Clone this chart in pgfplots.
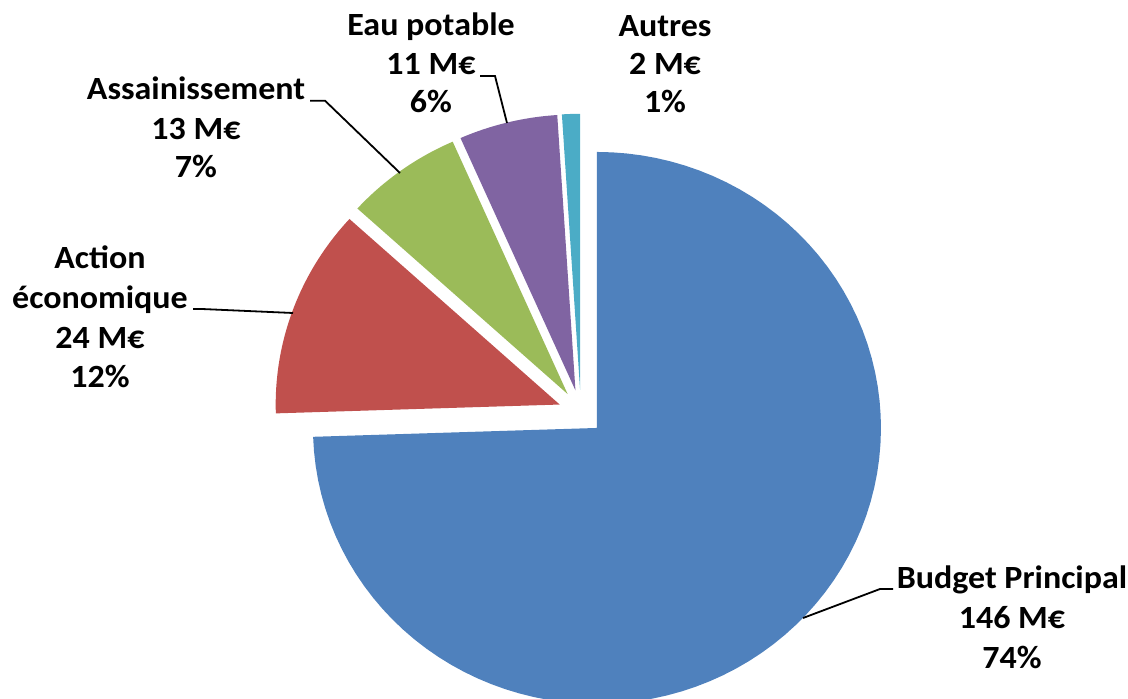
\documentclass[border=0pt]{standalone}
\usepackage{pgfplots}
\pgfplotsset{compat=1.18}
\usepackage{fontspec}
\setmainfont{Carlito}[FakeStretch=1.05]
\definecolor{cBlue}{HTML}{4F81BD}
\definecolor{cRed}{HTML}{C0504D}
\definecolor{cGreen}{HTML}{9BBB59}
\definecolor{cPurple}{HTML}{8064A2}
\definecolor{cCyan}{HTML}{4BACC6}
% data (M EUR)
\def\vBudget{146}
\def\vAction{24}
\def\vAssain{13}
\def\vEau{11}
\def\vAutres{2}
\pgfmathsetmacro{\T}{\vBudget+\vAction+\vAssain+\vEau+\vAutres}
% geometry (pixel units)
\def\cx{580.8}
\def\cy{412.3}
\def\rx{284}
\def\ry{276}
\def\d{22.5}
\newcommand{\slice}[3]{%
  \pgfmathsetmacro{\s}{90-#1/\T*360}%
  \pgfmathsetmacro{\e}{90-(#1+#2)/\T*360}%
  \pgfmathsetmacro{\b}{(\s+\e)/2}%
  \pgfmathsetmacro{\px}{\cx+\d*cos(\b)}%
  \pgfmathsetmacro{\py}{\cy-\d*sin(\b)}%
  \edef\cmd{\noexpand\addplot[fill=#3, draw=none, domain=\e:\s, samples=90]
    ({\px+\rx*cos(x)},{\py-\ry*sin(x)}) -- (axis cs:\px,\py) -- cycle;}%
  \cmd
}
\newcommand{\lab}[3]{\node[anchor=base, font=\fontsize{32.5}{38}\selectfont\bfseries, inner sep=0pt] at (axis cs:#1,#2) {#3};}
\begin{document}
\begin{tikzpicture}
\begin{axis}[
  scale only axis, width=1128bp, height=699bp,
  xmin=0, xmax=1128, ymin=0, ymax=699, y dir=reverse,
  hide axis, clip=true,
]
\slice{0}{\vBudget}{cBlue}
\pgfmathsetmacro{\cA}{\vBudget}
\slice{\cA}{\vAction}{cRed}
\pgfmathsetmacro{\cB}{\vBudget+\vAction}
\slice{\cB}{\vAssain}{cGreen}
\pgfmathsetmacro{\cC}{\vBudget+\vAction+\vAssain}
\slice{\cC}{\vEau}{cPurple}
\pgfmathsetmacro{\cD}{\vBudget+\vAction+\vAssain+\vEau}
\slice{\cD}{\vAutres}{cCyan}
% leader lines
\draw[black, line width=1.8bp] (axis cs:803,618) -- (axis cs:880,589) -- (axis cs:893,589);
\draw[black, line width=1.8bp] (axis cs:193,309) -- (axis cs:202,309) -- (axis cs:293,313);
\draw[black, line width=1.8bp] (axis cs:310,100.7) -- (axis cs:325,100.7) -- (axis cs:400,173);
\draw[black, line width=1.8bp] (axis cs:480,76) -- (axis cs:495,76) -- (axis cs:507,123);
% labels
\lab{665}{37}{Autres}
\lab{665}{75}{2 M€}
\lab{665}{113}{1\%}
\lab{431}{36}{Eau potable}
\lab{431}{75}{11 M€}
\lab{431}{113}{6\%}
\lab{196}{100}{Assainissement}
\lab{196}{140}{13 M€}
\lab{196}{178}{7\%}
\lab{100}{268}{Action}
\lab{100}{308}{économique}
\lab{100}{348}{24 M€}
\lab{100}{387}{12\%}
\lab{1012}{588}{Budget Principal}
\lab{1012}{628}{146 M€}
\lab{1012}{668}{74\%}
\end{axis}
\pgfresetboundingbox
\path (current axis.south west) rectangle (current axis.north east);
\end{tikzpicture}
\end{document}
